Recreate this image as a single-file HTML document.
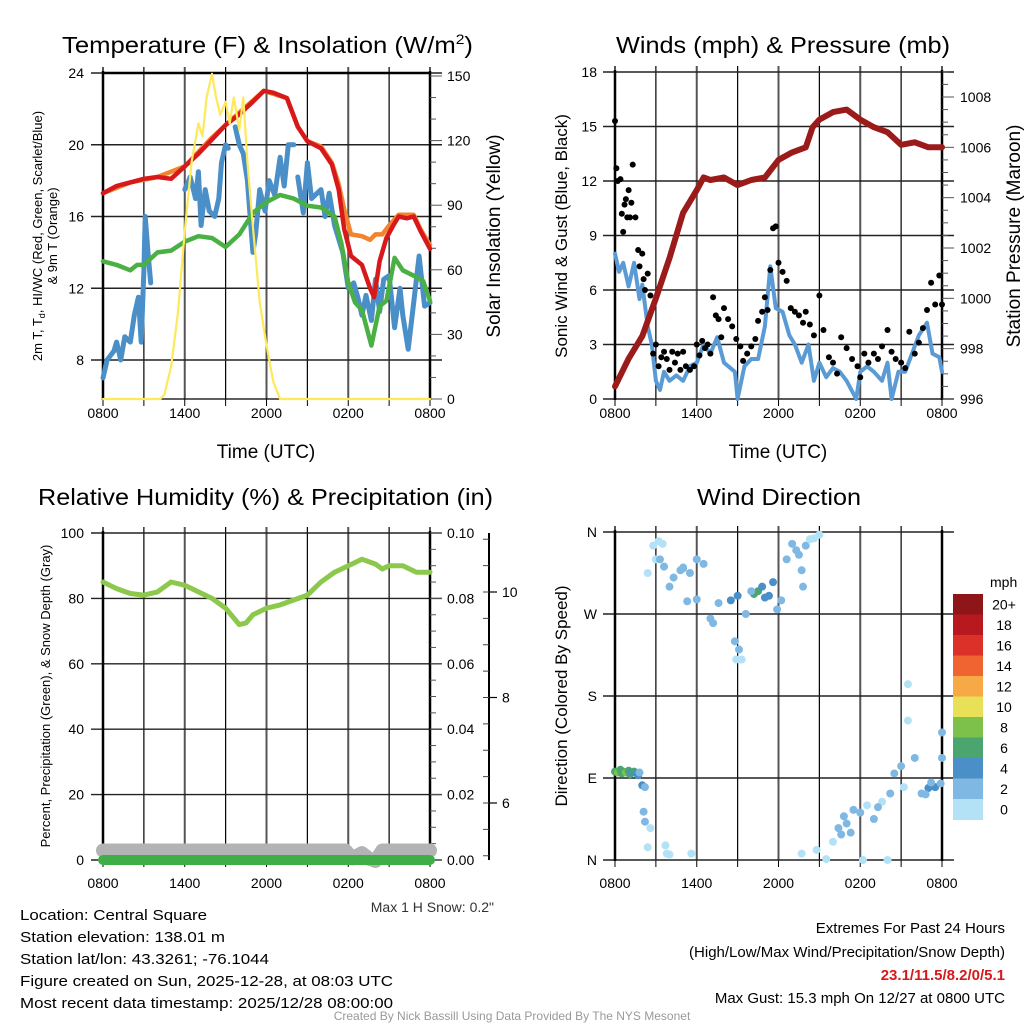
<!DOCTYPE html>
<html><head><meta charset="utf-8"><style>
html,body{margin:0;padding:0;background:#fff}
svg{display:block;font-family:"Liberation Sans",Arial,sans-serif}
</style></head><body>
<svg id="fig" width="1024" height="1024" viewBox="0 0 1024 1024" xmlns="http://www.w3.org/2000/svg">
<rect width="1024" height="1024" fill="#fff"/>
<g id="g1"></g>
<g id="g2"></g>
<g id="g3"></g>
<g id="g4"></g>

<text x="62" y="53" font-size="23" textLength="411" lengthAdjust="spacingAndGlyphs">Temperature (F) &amp; Insolation (W/m<tspan dy="-9" font-size="14">2</tspan><tspan dy="9">)</tspan></text>
<text x="616" y="53" font-size="23" textLength="334" lengthAdjust="spacingAndGlyphs">Winds (mph) &amp; Pressure (mb)</text>
<text x="38" y="505" font-size="23" textLength="455" lengthAdjust="spacingAndGlyphs">Relative Humidity (%) &amp; Precipitation (in)</text>
<text x="697" y="505" font-size="23" textLength="164" lengthAdjust="spacingAndGlyphs">Wind Direction</text>

<text x="266" y="458" font-size="19" text-anchor="middle">Time (UTC)</text>
<text x="778" y="458" font-size="19" text-anchor="middle">Time (UTC)</text>

<g transform="translate(42,236) rotate(-90)"><text x="0" y="0" font-size="13" text-anchor="middle">2m T, T<tspan font-size="9" dy="3">d</tspan><tspan dy="-3">, HI/WC (Red, Green, Scarlet/Blue)</tspan></text><text x="0" y="15" font-size="13" text-anchor="middle">&amp; 9m T (Orange)</text></g>
<text transform="translate(500,236) rotate(-90)" font-size="19" text-anchor="middle">Solar Insolation (Yellow)</text>
<text transform="translate(567,236) rotate(-90)" font-size="17" text-anchor="middle">Sonic Wind &amp; Gust (Blue, Black)</text>
<text transform="translate(1020,236) rotate(-90)" font-size="19" text-anchor="middle">Station Pressure (Maroon)</text>
<text transform="translate(50,696) rotate(-90)" font-size="13" text-anchor="middle">Percent, Precipitation (Green), &amp; Snow Depth (Gray)</text>
<text transform="translate(567,696) rotate(-90)" font-size="17" text-anchor="middle">Direction (Colored By Speed)</text>

<text x="494" y="912" font-size="14" text-anchor="end" fill="#333">Max 1 H Snow: 0.2"</text>
<g font-size="15">
<text x="20" y="920" textLength="187" lengthAdjust="spacingAndGlyphs">Location: Central Square</text>
<text x="20" y="942" textLength="205" lengthAdjust="spacingAndGlyphs">Station elevation: 138.01 m</text>
<text x="20" y="964" textLength="249" lengthAdjust="spacingAndGlyphs">Station lat/lon: 43.3261; -76.1044</text>
<text x="20" y="986" textLength="373" lengthAdjust="spacingAndGlyphs">Figure created on Sun, 2025-12-28, at 08:03 UTC</text>
<text x="20" y="1008" textLength="373" lengthAdjust="spacingAndGlyphs">Most recent data timestamp: 2025/12/28 08:00:00</text>
</g>
<g font-size="15" text-anchor="end">
<text x="1005" y="933">Extremes For Past 24 Hours</text>
<text x="1005" y="957">(High/Low/Max Wind/Precipitation/Snow Depth)</text>
<text x="1005" y="980" fill="#d7191c" font-weight="bold">23.1/11.5/8.2/0/5.1</text>
<text x="1005" y="1003">Max Gust: 15.3 mph On 12/27 at 0800 UTC</text>
</g>
<text x="512" y="1020" font-size="12" text-anchor="middle" fill="#999">Created By Nick Bassill Using Data Provided By The NYS Mesonet</text>
</svg>
<script>
// ---- data (hours since 0800 UTC) ----
const xTickLabels = ["0800","1400","2000","0200","0800"];
const tempTicks = [8,12,16,20,24];
const solarTicks = [0,30,60,90,120,150];
const windTicks = [0,3,6,9,12,15,18];
const presTicks = [996,998,1000,1002,1004,1006,1008];
const rhTicks = [0,20,40,60,80,100];
const precipTicks = ["0.00","0.02","0.04","0.06","0.08","0.10"];
const snowTicks = [6,8,10];
const dirLabels = ["N","W","S","E","N"];
const speedBins = ["0","2","4","6","8","10","12","14","16","18","20+"];

const redT = [0,1,2,3,4,5,6,7,8,9,10,11,11.8,12.5,13.5,14.3,15,16,16.8,17.3,17.7,18.2,19,19.6,19.9,20.3,20.8,21.3,21.7,22.3,22.8,23.3,24];
const redV = [17.3,17.7,17.9,18.1,18.2,18.1,18.8,19.5,20.3,21.1,21.7,22.4,23.0,22.9,22.6,21.0,20.2,19.8,18.9,17.5,15.3,13.8,13.3,12.0,11.5,13.5,14.8,15.5,16.0,15.9,16.0,15.2,14.2];
const orangeT = [0,2,4,6,8,10,11.8,13.5,14.3,15,16,16.8,17.3,17.7,18.2,19,19.6,20,20.5,21,21.7,22.8,23.3,24];
const orangeV = [17.3,17.9,18.2,18.8,20.4,21.8,23.0,22.6,21.0,20.2,19.9,19.0,17.8,16.4,15.0,14.9,14.7,15.0,15.0,15.5,16.1,16.1,15.3,14.4];
const greenT = [0,1,2,2.5,3,4,5,6,7,8,9,10,11,12,13,14,15,16,17,17.5,18,18.5,19,19.7,20.3,20.8,21.4,22,22.8,23.5,24];
const greenV = [13.5,13.3,13.0,13.3,13.3,14.0,14.1,14.6,14.9,14.8,14.3,15.0,16.2,16.8,17.2,17.0,16.6,16.5,16.0,14.5,12.3,11.2,10.8,8.8,11.0,11.3,13.7,13.0,12.7,12.4,11.3];
const blueT = [0,0.3,0.8,1,1.3,1.6,2,2.3,2.6,2.8,3,3.1,3.3,3.5,null,6,6.4,6.8,7,7.2,7.5,7.8,8.2,8.5,8.7,9,9.2,null,9.7,10,10.3,10.6,11,11.2,11.5,11.9,12.2,12.6,13,13.3,13.6,14,null,14.3,14.7,15,15.3,16,16.3,16.6,17,17.6,18,18.4,18.7,19,19.3,19.7,20,20.3,20.6,21,21.4,21.8,22,22.4,22.8,23.2,23.6,24];
const blueV = [7.0,8.0,8.5,9.0,8.0,9.3,9.0,10.5,11.5,9.0,13,16,14,12.3,null,17.5,18.2,17.0,18.5,15.5,17.5,16.3,16.0,17.0,19,20,19.8,null,21,20,19.5,18,14,15,17.5,16.3,18,17.2,19.3,17.7,20.0,20.0,null,18.2,16.2,19.0,17.0,17.5,16,17.3,15.5,14.0,12.0,12.3,11.5,10.5,11.6,10.2,12.5,10.7,12.5,12.7,9.8,12.0,10.5,8.6,11.2,13.8,11.0,11.2];
const solarT = [0,4.2,4.5,5,5.5,6,6.5,7,7.3,7.6,8,8.3,8.6,9,9.3,9.6,10,10.3,10.6,11,11.5,12,12.5,13,24];
const solarV = [0,0,2,15,40,78,110,128,122,140,151,140,132,138,128,140,125,140,110,80,45,25,8,0,0];

const sonicT = [0,0.3,0.6,1,1.4,1.8,2,2.4,2.7,3,3.3,3.6,4,4.5,5,5.5,6,6.5,7,7.5,8,8.8,9,9.5,10,10.5,11,11.4,11.8,12.3,12.8,13.2,13.7,14.2,14.6,15,15.5,16,16.5,17,17.7,18,18.5,19,19.6,20,20.3,20.8,21.3,21.8,22.3,22.9,23.3,23.8,24];
const sonicV = [8,7,7.5,6.2,7.5,5.5,6.3,4,3,1,0.5,1.5,1,1.3,1,1.8,2,3,2.5,3.4,2,1.5,0,1.8,2.2,2.2,4,7.3,5,4.8,3.5,3,2,3.0,1,2.0,1.2,1.7,1.5,1,0,1.5,1.8,1.5,1.0,2.0,0,1.5,1.5,2.5,3.5,4.2,2.5,2.3,1.5];
const gustT = [0,0.1,0.2,0.4,0.5,0.6,0.7,0.8,0.9,1.0,1.1,1.2,1.3,1.5,1.7,1.8,2.0,2.1,2.2,2.4,2.6,2.8,3.0,3.2,3.4,3.6,3.8,4.0,4.2,4.4,4.6,4.8,5.0,5.2,5.5,5.8,6.0,6.2,6.4,6.6,6.8,7.0,7.2,7.4,7.6,7.8,8.0,8.3,8.6,8.9,9.2,9.4,9.7,10.0,10.3,10.5,10.8,11.0,11.2,11.4,11.6,11.8,12.0,12.3,12.6,12.9,13.2,13.5,13.8,14.0,14.3,14.6,15.0,15.3,15.7,16.0,16.3,16.6,17.0,17.4,17.8,18.0,18.3,18.6,19.0,19.3,19.6,20.0,20.3,20.6,21.0,21.3,21.6,22.0,22.3,22.6,22.9,23.2,23.5,23.8,24.0];
const gustV = [15.3,12.7,12.0,12.1,10.2,9.2,10.7,11.0,10.0,11.5,10.0,10.8,12.9,10.0,8.2,7.3,8.0,6.6,6.0,6.9,5.7,2.5,3.0,1.8,2.3,2.6,2.2,1.6,2.6,2.0,2.5,1.6,2.6,1.8,1.6,1.8,3.0,2.4,3.2,2.8,3.0,2.5,5.6,4.6,4.4,3.4,5.0,4.4,4.0,3.3,2.9,2.1,2.5,2.9,3.3,4.3,4.8,5.6,4.9,7.1,9.4,9.5,7.5,7.0,6.5,5.0,4.8,4.6,4.2,4.8,4.1,3.5,5.7,3.8,2.3,2.0,1.4,3.4,2.8,2.2,1.8,1.2,2.5,2.0,2.5,2.2,2.9,3.8,2.6,2.2,2.0,1.7,3.7,2.5,3.1,3.9,4.9,6.4,5.2,6.8,5.2];
const presT = [0,1,2,3,4,5,6,6.5,7,8,9,10,11,12,13,14,14.5,15,16,17,18,19,20,21,22,23,24];
const presV = [996.5,997.6,998.5,1000,1001.6,1003.4,1004.3,1004.8,1004.7,1004.8,1004.5,1004.7,1004.8,1005.5,1005.8,1006.0,1006.8,1007.1,1007.4,1007.5,1007.1,1006.8,1006.6,1006.1,1006.2,1006.0,1006.0];

const rhT = [0,1,2,3,4,5,6,7,8,9,10,10.5,11,12,13,14,15,16,17,18,19,20,20.5,21,22,23,24];
const rhV = [85,83,81.5,81,82,85,84,82,80,77,72,72.5,75,77,78,79.5,81,85,88,90,92,90.5,89,90,90,88,88];
const snowT = [0,17.8,18.3,19.0,19.5,20.0,20.5,24];
const snowV = [5.1,5.1,4.95,5.05,4.95,4.9,5.1,5.1];
const precipT = [0,24];
const precipV = [0,0];

const dirT = [0,0.2,0.4,0.5,0.6,0.8,1.0,1.1,1.2,1.4,1.6,1.7,1.8,2.0,2.2,2.1,2.2,2.6,2.4,3.7,3.8,4.0,5.6,2.4,2.8,3.0,3.2,3.5,3.3,3.6,4.0,4.3,4.8,5.0,5.5,6.0,6.5,6.0,5.3,5.0,7.0,7.2,7.6,8.5,9.0,8.8,9.3,9.1,8.9,10.2,10.5,10.8,11.0,11.3,11.6,11.9,12.2,10.0,9.6,12.6,13.0,13.3,13.5,13.7,14.0,14.3,14.6,15.0,13.8,13.7,14.8,15.5,16.0,16.4,16.8,17.0,17.5,18.0,18.5,19.0,19.6,20.2,20.5,21.0,21.2,21.5,21.5,22.0,22.5,23.0,23.5,23.9,24.0,24.0,20.0,18.2,16.6,17.3,19.3,22.8,23.2];
const dirV = [97,96,99,95,97,96,98,94,96,97,95,93,96,82,80,53,42,35,14,16,7,6,7,315,345,330,350,347,330,322,300,310,318,321,315,330,325,286,284,320,265,260,282,285,290,240,220,231,220,292,295,300,288,290,305,275,285,295,270,330,347,340,335,318,345,352,353,357,300,7,11,1,20,35,48,40,55,52,60,45,64,73,95,103,80,153,193,112,73,79,80,84,140,112,0,0,28,30,58,72,85];
const dirS = [7,8,6,7,6,8,6,7,5,6,5,4,3,4,3,2,2,1,1,1,1,1,1,1,1,1,1,1,3,2,3,2,3,2,3,3,2,2,2,2,2,3,3,4,4,2,1,3,1,6,6,4,4,5,4,3,3,2,2,3,2,3,2,3,2,1,1,1,3,1,1,1,1,2,3,2,2,2,1,2,1,2,3,3,1,1,1,2,2,4,4,3,2,3,1,1,2,3,2,2,3];

// ---- helpers ----
const NS="http://www.w3.org/2000/svg";
function mk(parent,tag,attrs){const e=document.createElementNS(NS,tag);for(const k in attrs)e.setAttribute(k,attrs[k]);parent.appendChild(e);return e;}
const X0=103,X1=430,X0b=615,X1b=942;
function xs(x0,x1){return t=>x0+(x1-x0)*t/24;}
function lin(d0,d1,p0,p1){return v=>p0+(v-d0)*(p1-p0)/(d1-d0);}
function pathFrom(T,V,fx,fy){let d="",pen=false;for(let i=0;i<T.length;i++){if(T[i]===null||V[i]===null){pen=false;continue;}d+=(pen?"L":"M")+fx(T[i]).toFixed(1)+","+fy(V[i]).toFixed(1);pen=true;}return d;}

function frame(g,x0,x1,y0,y1,hLines,fx){
  for(let h=0;h<=24;h+=3){const x=fx(h);
    const l=mk(g,"line",{x1:x,x2:x,y1:y0-6,y2:y1,stroke:h%6===0?"#555":"#000","stroke-width":h%6===0?2:1.2});
    
    
    mk(g,"line",{x1:x,x2:x,y1:y1,y2:y1+7,stroke:"#000","stroke-width":1});
  }
  hLines.forEach(y=>{const l=mk(g,"line",{x1:x0-12,x2:x1+12,y1:y,y2:y,stroke:"#222","stroke-width":1.4});
    
    });
  mk(g,"line",{x1:x0,x2:x0,y1:y0-2,y2:y1+1,stroke:"#000","stroke-width":2.5});
  mk(g,"line",{x1:x1,x2:x1,y1:y0-2,y2:y1+1,stroke:"#000","stroke-width":2.5});
}
function xLabels(g,fx,y){xTickLabels.forEach((s,i)=>{const t=mk(g,"text",{x:fx(i*6),y:y,"font-size":14,"text-anchor":"middle"});t.textContent=s;
  
  });}
function yLabel(g,x,y,s,anchor){const t=mk(g,"text",{x:x,y:y+5,"font-size":14,"text-anchor":anchor});t.textContent=s;
  
  }
function line(g,T,V,fx,fy,col,w,name){const p=mk(g,"path",{d:pathFrom(T,V,fx,fy),fill:"none",stroke:col,"stroke-width":w,"stroke-linejoin":"round","stroke-linecap":"round"});
  
  return p;}

// ---- Panel 1: temperature ----
(function(){
  const g=document.getElementById("g1"),fx=xs(X0,X1);
  const fy=lin(24,8,73,360), fs=lin(0,150,399,76);
  frame(g,X0,X1,73,399,tempTicks.map(fy),fx);
  mk(g,"line",{x1:X0,x2:X1,y1:399,y2:399,stroke:"#000","stroke-width":1.2});
  mk(g,"line",{x1:X0,x2:X1,y1:73,y2:73,stroke:"#000","stroke-width":2.5});
  for(let v=0;v<=150;v+=10){const y=fs(v);mk(g,"line",{x1:X1,x2:X1+(v%30===0?12:6),y1:y,y2:y,stroke:"#555","stroke-width":1});}
  tempTicks.forEach(v=>yLabel(g,84,fy(v),String(v),"end"));
  solarTicks.forEach(v=>yLabel(g,447,fs(v),String(v),"start"));
  xLabels(g,fx,418);
  line(g,blueT,blueV,fx,fy,"#4a8fc7",5,"heat-index-wind-chill-line");
  line(g,greenT,greenV,fx,fy,"#4bb043",4.5,"dewpoint-line");
  line(g,orangeT,orangeV,fx,fy,"#f2832f",4.5,"temp-9m-line");
  line(g,redT,redV,fx,fy,"#d7191c",4.5,"temp-2m-line");
  line(g,solarT,solarV,fx,fs,"#fde95a",2.2,"solar-insolation-line");
})();

// ---- Panel 2: wind & pressure ----
(function(){
  const g=document.getElementById("g2"),fx=xs(X0b,X1b);
  const fy=lin(0,18,399,72), fp=lin(996,1008,399,97);
  frame(g,X0b,X1b,72,399,windTicks.map(fy),fx);
  for(let v=996;v<=1009;v+=0.5){const y=fp(v);mk(g,"line",{x1:X1b,x2:X1b+(v%2===0?12:6),y1:y,y2:y,stroke:"#555","stroke-width":1});}
  windTicks.forEach(v=>yLabel(g,597,fy(v),String(v),"end"));
  presTicks.forEach(v=>yLabel(g,960,fp(v),String(v),"start"));
  xLabels(g,fx,418);
  line(g,sonicT,sonicV,fx,fy,"#5b9bd5",4,"sonic-wind-line");
  gustT.forEach((t,i)=>{const c=mk(g,"circle",{cx:fx(t),cy:fy(gustV[i]),r:3,fill:"#000"});
    
    });
  line(g,presT,presV,fx,fp,"#9b1a1a",6,"pressure-line");
})();

// ---- Panel 3: humidity ----
(function(){
  const g=document.getElementById("g3"),fx=xs(X0,X1);
  const fy=lin(0,100,860,533), fs=lin(6,10,803,592);
  frame(g,X0,X1,533,860,rhTicks.map(fy),fx);
  for(let v=0;v<=100;v+=5){const y=fy(v);mk(g,"line",{x1:X1,x2:X1+(v%20===0?12:6),y1:y,y2:y,stroke:"#555","stroke-width":1});}
  rhTicks.forEach(v=>yLabel(g,84,fy(v),String(v),"end"));
  precipTicks.forEach((s,i)=>yLabel(g,447,fy(i*20),s,"start"));
  mk(g,"line",{x1:489,x2:489,y1:533,y2:860,stroke:"#000","stroke-width":2});
  for(let v=4.5;v<=11;v+=0.5){const y=fs(v);if(y<533||y>860)continue;mk(g,"line",{x1:483,x2:489,y1:y,y2:y,stroke:"#444","stroke-width":1});}
  snowTicks.forEach(v=>{const y=fs(v);mk(g,"line",{x1:489,x2:497,y1:y,y2:y,stroke:"#000","stroke-width":1.2});yLabel(g,502,y,String(v),"start");});
  xLabels(g,fx,888);
  line(g,snowT,snowV,fx,fs,"#b3b3b3",14,"snow-depth-line");
  line(g,precipT,precipV,fx,fy,"#3fae49",10,"precipitation-line");
  line(g,rhT,rhV,fx,fy,"#8cc84b",5,"relative-humidity-line");
})();

// ---- Panel 4: wind direction ----
(function(){
  const g=document.getElementById("g4"),fx=xs(X0b,X1b);
  const fy=lin(0,360,860,532);
  frame(g,X0b,X1b,532,860,[0,90,180,270,360].map(fy),fx);
  dirLabels.forEach((s,i)=>yLabel(g,597,fy(360-i*90),s,"end"));
  xLabels(g,fx,888);
  const cols=["#b3e2f7","#7fb9e3","#4a8fc7","#4aa56f","#7dc04a","#e8e057","#f6a945","#ef6430","#dc3128","#b7191f","#8e1518"];
  dirT.forEach((t,i)=>{const bin=Math.min(10,Math.floor(dirS[i]/2));
    const c=mk(g,"circle",{cx:fx(t),cy:fy(dirV[i]),r:4,fill:cols[bin]});
    
    });
  const top=594,h=20.5;
  const lt=mk(g,"text",{x:990,y:587,"font-size":14});lt.textContent="mph";
  
  
  speedBins.forEach((s,i)=>{const k=speedBins.length-1-i;const y=top+i*h;
    const r=mk(g,"rect",{x:953,y:y,width:30,height:h+0.5,fill:cols[k]});
    
    
    const t=mk(g,"text",{x:1004,y:y+h/2+5,"font-size":14,"text-anchor":"middle"});t.textContent=speedBins[k];
    
    });
})();
</script>
</body></html>
